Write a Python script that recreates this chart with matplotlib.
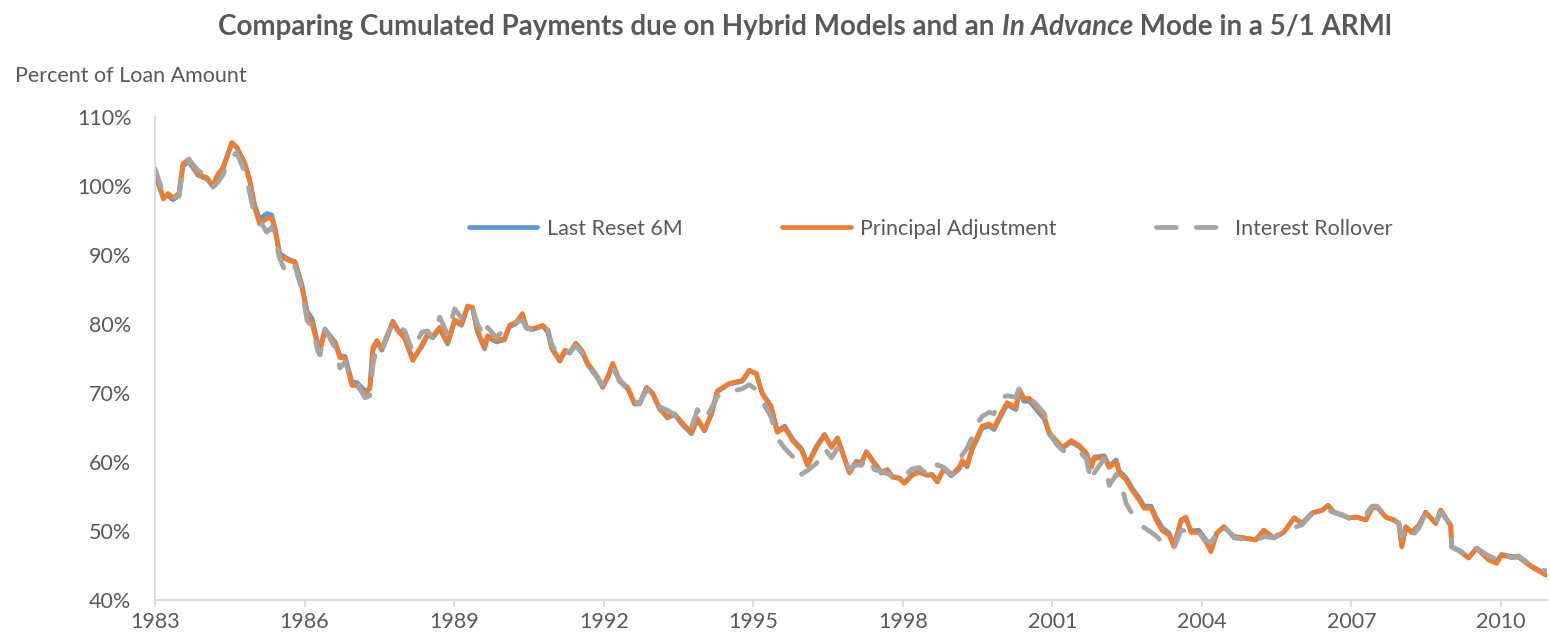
import matplotlib
matplotlib.use("Agg")
import matplotlib.pyplot as plt
from matplotlib.ticker import FixedLocator, FuncFormatter

plt.rcParams['font.family'] = ['Lato', 'DejaVu Sans']

# month positions as decimal years
dates = [
    1983.00, 1983.17, 1983.26, 1983.36, 1983.48, 1983.56, 1983.68, 1983.86,
    1984.04, 1984.16, 1984.26, 1984.36, 1984.54, 1984.64, 1984.80, 1984.90,
    1985.00, 1985.10, 1985.24, 1985.34, 1985.42, 1985.50, 1985.65, 1985.81,
    1985.95, 1986.05, 1986.15, 1986.27, 1986.31, 1986.41, 1986.61, 1986.71,
    1986.81, 1986.95, 1987.05, 1987.21, 1987.31, 1987.37, 1987.45, 1987.55,
    1987.67, 1987.77, 1987.87, 1988.01, 1988.17, 1988.35, 1988.47, 1988.57,
    1988.71, 1988.87, 1989.01, 1989.15, 1989.27, 1989.37, 1989.47, 1989.61,
    1989.67, 1989.85, 1990.01, 1990.11, 1990.25, 1990.37, 1990.45, 1990.58,
    1990.78, 1990.88, 1990.96, 1991.12, 1991.22, 1991.32, 1991.44, 1991.56,
    1991.68, 1991.86, 1991.98, 1992.08, 1992.18, 1992.32, 1992.48, 1992.62,
    1992.72, 1992.86, 1992.98, 1993.12, 1993.28, 1993.42, 1993.58, 1993.76,
    1993.88, 1994.02, 1994.16, 1994.28, 1994.52, 1994.78, 1994.92, 1995.06,
    1995.18, 1995.36, 1995.48, 1995.63, 1995.79, 1995.97, 1996.09, 1996.27,
    1996.43, 1996.57, 1996.69, 1996.83, 1996.93, 1997.07, 1997.17, 1997.27,
    1997.43, 1997.57, 1997.69, 1997.79, 1997.93, 1998.03, 1998.19, 1998.33,
    1998.49, 1998.59, 1998.69, 1998.83, 1998.97, 1999.13, 1999.19, 1999.29,
    1999.39, 1999.49, 1999.59, 1999.73, 1999.83, 1999.97, 2000.09, 2000.27,
    2000.33, 2000.43, 2000.54, 2000.70, 2000.84, 2000.94, 2001.08, 2001.20,
    2001.38, 2001.54, 2001.68, 2001.78, 2001.84, 2002.04, 2002.14, 2002.28,
    2002.34, 2002.48, 2002.60, 2002.74, 2002.84, 2002.98, 2003.08, 2003.20,
    2003.34, 2003.44, 2003.58, 2003.68, 2003.78, 2003.94, 2004.08, 2004.18,
    2004.30, 2004.44, 2004.64, 2004.84, 2005.08, 2005.24, 2005.44, 2005.64,
    2005.85, 2006.01, 2006.21, 2006.41, 2006.53, 2006.65, 2006.81, 2006.95,
    2007.11, 2007.29, 2007.41, 2007.51, 2007.69, 2007.85, 2007.95, 2008.01,
    2008.09, 2008.21, 2008.35, 2008.49, 2008.69, 2008.79, 2008.99, 2009.01,
    2009.19, 2009.35, 2009.51, 2009.75, 2009.91, 2010.01, 2010.21, 2010.35,
    2010.61, 2010.90,
]

last_reset = [
    101.6, 98.3, 98.6, 98.0, 98.6, 102.9, 103.5, 101.6,
    101.0, 100.0, 101.5, 102.4, 106.2, 105.6, 103.3, 100.9,
    97.2, 95.2, 96.0, 95.8, 93.5, 90.2, 89.5, 89.0,
    85.6, 81.8, 80.8, 77.0, 76.4, 79.2, 77.4, 75.4,
    75.3, 71.6, 71.5, 70.3, 70.6, 76.2, 77.4, 76.2,
    78.4, 80.4, 79.2, 78.1, 74.9, 76.7, 78.4, 78.0,
    79.3, 77.1, 80.4, 79.8, 82.5, 82.3, 78.8, 76.4,
    78.1, 77.4, 77.7, 79.6, 80.1, 81.3, 79.4, 79.2,
    79.7, 78.8, 76.4, 74.6, 76.0, 75.8, 77.0, 76.0,
    74.1, 72.4, 70.8, 72.2, 74.1, 71.7, 70.6, 68.4,
    68.4, 70.8, 70.0, 67.7, 66.4, 66.9, 65.4, 64.1,
    66.2, 64.5, 66.9, 70.2, 71.3, 71.7, 73.2, 72.8,
    70.0, 68.1, 64.5, 65.2, 63.3, 61.9, 59.7, 62.3,
    64.0, 62.2, 63.5, 60.6, 58.6, 60.1, 59.9, 61.5,
    59.9, 58.5, 58.9, 57.9, 57.7, 57.0, 58.2, 58.6,
    58.1, 58.2, 57.2, 59.0, 58.0, 59.0, 60.0, 59.3,
    61.8, 63.3, 64.9, 65.2, 64.7, 66.7, 68.3, 67.6,
    70.3, 68.8, 68.8, 67.4, 66.2, 64.0, 62.9, 62.0,
    62.9, 62.2, 61.2, 59.4, 60.7, 60.9, 59.4, 60.3,
    58.7, 57.7, 56.2, 54.8, 53.6, 53.6, 52.0, 50.5,
    49.7, 48.0, 51.4, 51.8, 50.0, 50.1, 48.7, 47.3,
    49.7, 50.6, 49.2, 49.0, 48.7, 50.1, 49.0, 49.8,
    51.9, 51.1, 52.6, 53.0, 53.7, 52.7, 52.3, 51.9,
    52.0, 51.6, 53.3, 53.5, 52.0, 51.6, 51.1, 47.8,
    50.6, 49.8, 50.8, 52.7, 51.1, 53.0, 50.8, 47.7,
    47.0, 46.1, 47.5, 46.0, 45.6, 46.6, 46.3, 46.3,
    44.9, 43.8,
]

principal_adjustment = [
    101.8, 98.1, 98.9, 98.3, 98.9, 103.2, 103.9, 101.7,
    101.2, 100.0, 101.7, 102.6, 106.3, 105.6, 103.2, 100.7,
    96.8, 94.5, 95.3, 95.4, 93.1, 89.9, 89.3, 88.9,
    85.3, 81.5, 80.1, 76.6, 76.2, 79.0, 77.2, 75.1,
    75.1, 71.1, 71.1, 69.6, 70.8, 76.6, 77.6, 76.4,
    78.6, 80.2, 79.0, 77.9, 74.7, 76.9, 78.6, 78.2,
    79.5, 77.3, 80.6, 80.0, 82.6, 82.4, 79.0, 76.6,
    78.3, 77.6, 77.9, 79.8, 80.3, 81.5, 79.5, 79.3,
    79.8, 79.0, 76.6, 74.7, 76.2, 75.9, 77.2, 76.2,
    74.3, 72.5, 70.9, 72.3, 74.3, 71.8, 70.8, 68.5,
    68.5, 70.7, 69.9, 67.8, 66.5, 67.0, 65.6, 64.3,
    66.3, 64.6, 67.0, 70.3, 71.4, 71.8, 73.3, 72.8,
    69.9, 67.9, 64.3, 65.0, 63.1, 61.7, 59.5, 62.1,
    63.9, 62.1, 63.4, 60.5, 58.4, 60.0, 59.8, 61.4,
    59.8, 58.4, 58.8, 57.8, 57.6, 56.9, 58.1, 58.5,
    58.1, 58.1, 57.1, 59.1, 58.1, 59.2, 60.2, 59.5,
    62.1, 63.6, 65.2, 65.5, 65.0, 67.0, 68.6, 67.9,
    70.6, 69.2, 69.2, 67.8, 66.5, 64.2, 63.1, 62.1,
    63.1, 62.4, 61.3, 59.2, 60.5, 60.7, 59.2, 60.0,
    58.4, 57.4, 55.9, 54.5, 53.3, 53.3, 51.6, 50.1,
    49.4, 47.7, 51.6, 52.0, 49.8, 49.8, 48.4, 47.0,
    49.7, 50.6, 49.2, 49.0, 48.7, 50.1, 49.0, 49.8,
    51.9, 51.1, 52.6, 53.0, 53.7, 52.7, 52.3, 51.9,
    52.0, 51.6, 53.3, 53.5, 52.0, 51.6, 51.1, 47.7,
    50.6, 49.8, 50.8, 52.7, 51.1, 53.0, 50.8, 47.7,
    47.0, 46.1, 47.5, 45.8, 45.3, 46.5, 46.2, 46.2,
    44.8, 43.6,
]

interest_rollover = [
    102.5, 98.8, 98.6, 98.3, 98.5, 102.4, 103.8, 102.3,
    101.4, 99.8, 100.5, 101.6, 104.2, 104.8, 102.0, 99.0,
    95.5, 95.0, 93.3, 94.0, 92.0, 89.5, 87.0, 88.3,
    84.8, 80.5, 79.5, 76.0, 75.5, 79.3, 76.5, 73.6,
    74.5, 72.0, 71.5, 69.3, 69.6, 74.0, 76.8, 76.2,
    78.3, 80.3, 79.8, 79.0, 76.0, 78.8, 79.0, 78.0,
    81.0, 78.5, 82.2, 80.8, 82.3, 82.2, 80.0, 78.0,
    79.5, 78.0, 79.3, 79.9, 80.3, 80.5, 79.4, 79.1,
    79.8, 79.2, 77.0, 75.3, 76.0, 76.0, 76.8, 75.8,
    74.0, 72.3, 71.2, 71.8, 73.6, 72.0, 70.4, 68.8,
    68.5, 70.4, 70.0, 68.0, 67.5, 66.8, 65.8, 65.0,
    67.6, 66.0, 67.8, 69.5, 70.2, 70.6, 71.2, 70.5,
    68.8, 66.5, 63.5, 62.0, 60.8, 58.2, 58.8, 59.8,
    62.0, 60.6, 62.0, 60.3, 59.0, 59.6, 59.5, 60.8,
    58.9, 58.6, 58.3, 57.9, 57.8, 58.0, 59.0, 59.2,
    58.2, 58.0, 59.6, 59.2, 58.2, 59.6, 61.0, 62.0,
    63.6, 65.5, 66.6, 67.2, 67.0, 69.3, 69.6, 69.4,
    70.6, 70.2, 69.4, 68.2, 67.0, 64.2, 62.6, 61.7,
    61.2, 61.5, 60.5, 57.1, 58.4, 60.5, 56.6, 58.2,
    57.8, 54.0, 52.5, 51.2, 50.5, 49.8, 49.3, 48.4,
    48.0, 47.5, 50.1, 50.0, 49.2, 49.7, 48.6, 48.3,
    49.7, 50.8, 49.0, 48.8, 48.5, 49.2, 49.0, 50.1,
    50.5, 50.9, 52.5, 52.8, 53.0, 52.7, 52.4, 51.8,
    51.8, 52.4, 53.6, 53.6, 52.2, 51.8, 51.1, 49.2,
    50.4, 49.2, 50.4, 52.6, 51.2, 52.7, 51.0, 47.7,
    47.1, 46.2, 47.5, 46.4, 45.9, 46.9, 46.1, 46.4,
    45.0, 44.2,
]

year_ticks = [1983, 1986, 1989, 1992, 1995, 1998, 2001, 2004, 2007, 2010]
pct_ticks = [40, 50, 60, 70, 80, 90, 100, 110]

TEXT = '#595959'
AXIS = '#D9D9D9'
FS = 15.5

fig = plt.figure(figsize=(15.5, 6.43), dpi=100)
ax = fig.add_axes([0.1, 0.0669, 0.898, 0.7512])

lw = 3.4
ax.plot(dates, last_reset, color='#5B9BD5', lw=lw, solid_joinstyle='round',
        solid_capstyle='round', label='Last Reset 6M')
ax.plot(dates, principal_adjustment, color='#ED7D31', lw=lw, solid_joinstyle='round',
        solid_capstyle='round', label='Principal Adjustment')
ax.plot(dates, interest_rollover, color='#A5A5A5', lw=lw, dashes=(4.2, 4.2),
        dash_capstyle='round', dash_joinstyle='round', label='Interest Rollover')

ax.set_xlim(1983, 2010.92)
ax.set_ylim(40, 110)
ax.xaxis.set_major_locator(FixedLocator(year_ticks))
ax.xaxis.set_major_formatter(FuncFormatter(lambda v, p: f"{int(round(v))}"))
ax.yaxis.set_major_locator(FixedLocator(pct_ticks))
ax.yaxis.set_major_formatter(FuncFormatter(lambda v, p: f"{int(round(v))}%"))

for side in ('top', 'right'):
    ax.spines[side].set_visible(False)
for side in ('left', 'bottom'):
    ax.spines[side].set_color(AXIS)
    ax.spines[side].set_linewidth(1.3)

ax.tick_params(axis='x', direction='out', length=5, width=1.3, color=AXIS,
               labelcolor=TEXT, labelsize=FS, pad=4)
ax.tick_params(axis='y', length=0, labelcolor=TEXT, labelsize=FS, pad=17)

leg = ax.legend(loc='center', bbox_to_anchor=(0.557, 0.768), ncol=3, frameon=False,
                fontsize=FS, handlelength=3.2, handletextpad=0.45, columnspacing=4.6,
                labelcolor=TEXT)

fig.text(15 / 1550, 1 - 76 / 643, 'Percent of Loan Amount', ha='left', va='center',
         fontsize=FS, color=TEXT)

# title with an italic phrase in the middle
pieces = [("Comparing Cumulated Payments due on Hybrid Models and an ", 'normal'),
          ("In Advance", 'italic'),
          (" Mode in a 5/1 ARMl", 'normal')]
renderer = fig.canvas.get_renderer()
ty = 1 - 27 / 643
texts = []
for s, style in pieces:
    t = fig.text(0, ty, s, fontsize=20, fontweight='bold', style=style,
                 color=TEXT, ha='left', va='center')
    texts.append(t)
widths = [t.get_window_extent(renderer).width for t in texts]
total = sum(widths)
x0 = 805 - total / 2
for t, w in zip(texts, widths):
    t.set_x(x0 / fig.bbox.width)
    x0 += w

fig.savefig('out.png', dpi=100)
